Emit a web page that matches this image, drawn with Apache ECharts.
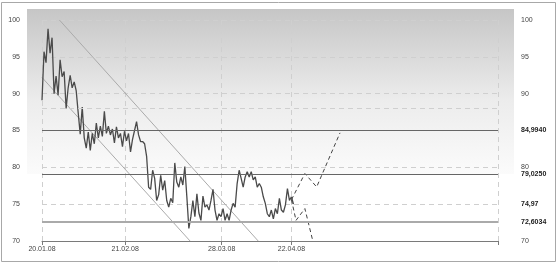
<!DOCTYPE html>
<html><head><meta charset="utf-8">
<script src="https://cdn.jsdelivr.net/npm/echarts@6/dist/echarts.min.js"></script>
<style>html,body{margin:0;padding:0;background:#fff}#c{width:558px;height:264px}</style>
</head><body><div id="c"></div>
<script>
// x axis: time index (bars), tick positions and their date labels
const xTickPos = [0, 31, 67, 93, 170];
const xTickLabels = ['20.01.08', '21.02.08', '28.03.08', '22.04.08', ''];
// price series, one value every priceStep units of the x axis
const priceStep = 0.75;
const price = [
  89.1, 95.7, 94.2, 98.8, 95.5, 97.6, 90.0, 92.4, 89.8, 94.6,
  92.3, 93.0, 88.0, 90.8, 92.5, 90.8, 91.6, 90.4, 87.4, 84.5,
  88.2, 84.0, 82.6, 84.8, 82.3, 84.6, 83.2, 86.0, 84.0, 85.6,
  84.2, 87.6, 84.6, 85.6, 84.4, 85.2, 83.3, 85.5, 84.0, 84.6,
  82.8, 84.9, 83.6, 84.6, 82.1, 83.8, 85.0, 86.2, 84.4, 83.5,
  83.5, 83.2, 81.5, 77.3, 77.0, 79.6, 78.5, 75.5, 76.3, 78.9,
  76.9, 78.2, 75.5, 74.6, 75.8, 75.2, 80.6, 78.0, 77.3, 78.7,
  77.6, 80.1, 76.0, 71.7, 73.3, 75.5, 73.3, 76.4, 73.8, 72.8,
  76.1, 74.6, 74.9, 74.2, 75.5, 77.0, 74.2, 72.8, 73.7, 73.3,
  74.4, 72.8, 73.7, 72.8, 74.2, 75.1, 74.6, 77.8, 79.6, 78.5,
  77.3, 78.7, 79.4, 78.7, 79.4, 78.3, 78.7, 77.3, 77.8, 77.3,
  76.0, 75.1, 73.7, 73.3, 74.2, 73.0, 74.4, 73.7, 75.8, 74.2,
  73.9, 74.9, 77.1, 75.5, 76.0, 75.0
];
// y axis ticks
const yMin = 70, yMax = 100, yStep = 5;
const rightTicks = [70, 80, 90, 95, 100];
// support / resistance levels and current price
const levelValues = [84.9940, 79.0250, 72.6034];
const levelLabels = ['84,9940', '79,0250', '72,6034'];
const lastPrice = 74.97;
const lastPriceLabel = '74,97';
const extraGridLevel = [88];
// trend channel (x, price)
const channelUpper = [[6.5, 100], [80.6, 70]];
const channelLower = [[0, 92.2], [55.2, 70]];
// forecast paths (x, price)
const forecastUp = [[93, 75.6], [98.0, 79.16], [102.4, 77.34], [111.1, 84.68]];
const forecastDown = [[93, 75.6], [94.7, 72.8], [98.0, 74.4], [100.9, 70.1]];

const boldVals = levelValues.concat([lastPrice]);
const boldLabels = levelLabels.concat([lastPriceLabel]);
const rightValues = rightTicks.concat(boldVals).sort((a, b) => a - b);

const FONT = 'Liberation Sans';
const chart = echarts.init(document.getElementById('c'), null, {renderer: 'canvas'});
chart.setOption({
  animation: false,
  backgroundColor: '#fff',
  graphic: [
    {type: 'rect', z: -100, silent: true, shape: {x: 1.5, y: 2.5, width: 554, height: 259},
     style: {fill: '#fff', stroke: '#a8a8a8', lineWidth: 1}},
    {type: 'rect', z: -99, silent: true, shape: {x: 27, y: 9, width: 487, height: 165},
     style: {fill: new echarts.graphic.LinearGradient(0, 0, 0, 1, [
       {offset: 0, color: '#c6c6c6'}, {offset: 0.55, color: '#ececec'}, {offset: 1, color: '#fbfbfb'}])}}
  ],
  grid: {left: 42, right: 60, top: 20, bottom: 23},
  xAxis: {
    type: 'value', min: 0, max: 170,
    axisLine: {show: true, lineStyle: {color: '#7a7a7a', width: 1}},
    axisTick: {show: true, length: 4, customValues: xTickPos, lineStyle: {color: '#7a7a7a'}},
    axisLabel: {customValues: xTickPos.slice(0, 4), margin: 5, fontFamily: FONT, fontSize: 7, color: '#444',
      formatter: v => { const i = xTickPos.indexOf(v); return i >= 0 ? xTickLabels[i] : ''; }},
    splitLine: {show: true, lineStyle: {color: '#cfcfcf', type: [5, 4], width: 1}}
  },
  yAxis: [
    {type: 'value', min: yMin, max: yMax, interval: yStep,
     axisLine: {show: false}, axisTick: {show: false},
     axisLabel: {margin: 22, fontFamily: FONT, fontSize: 7, color: '#444'},
     splitLine: {show: true, lineStyle: {color: '#cfcfcf', type: [5, 4], width: 1}}},
    {type: 'value', min: yMin, max: yMax, position: 'right',
     axisLine: {show: false}, axisTick: {show: false}, splitLine: {show: false},
     axisLabel: {customValues: rightValues, margin: 23, fontFamily: FONT, fontSize: 7, color: '#444', align: 'left',
       formatter: v => {
         for (let i = 0; i < boldVals.length; i++) if (Math.abs(v - boldVals[i]) < 1e-6) return '{b|' + boldLabels[i] + '}';
         return String(v);
       },
       rich: {b: {fontFamily: FONT, fontSize: 7, fontWeight: 'bold', color: '#222'}}}}
  ],
  series: [
    {type: 'line', name: 'levels', data: [], symbol: 'none', silent: true,
     markLine: {symbol: 'none', silent: true, label: {show: false},
       data: [
         {yAxis: levelValues[0], lineStyle: {color: '#666', width: 1, type: 'solid'}},
         {yAxis: levelValues[1], lineStyle: {color: '#666', width: 1, type: 'solid'}},
         {yAxis: levelValues[2], lineStyle: {color: '#aaa', width: 2, type: 'solid'}},
         {yAxis: extraGridLevel[0], lineStyle: {color: '#cfcfcf', width: 1, type: [5, 4]}}
       ]}},
    {type: 'line', data: channelUpper, symbol: 'none', silent: true, lineStyle: {color: '#aaa', width: 1}},
    {type: 'line', data: channelLower, symbol: 'none', silent: true, lineStyle: {color: '#aaa', width: 1}},
    {type: 'line', data: price.map((v, i) => [i * priceStep, v]), symbol: 'none', silent: true,
     lineStyle: {color: '#4a4a4a', width: 1.3}},
    {type: 'line', data: forecastUp, symbol: 'none', silent: true, lineStyle: {color: '#444', width: 1, type: [4, 3]}},
    {type: 'line', data: forecastDown, symbol: 'none', silent: true, lineStyle: {color: '#444', width: 1, type: [4, 3]}}
  ]
});
</script></body></html>
